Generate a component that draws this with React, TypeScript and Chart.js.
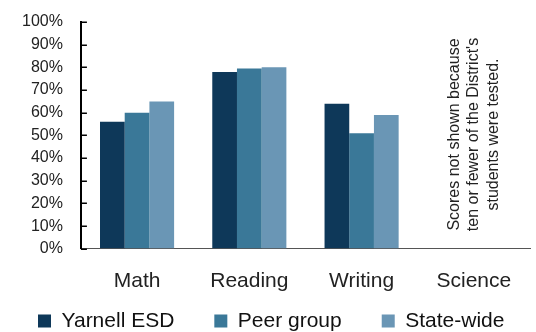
import React, { useEffect, useRef } from "react";
import { Chart, registerables } from "chart.js";

Chart.register(...registerables);

const categories = ["Math", "Reading", "Writing", "Science"];
const yarnell = [56, 78, 64, null];
const peer = [60, 79.5, 51, null];
const state = [65, 80, 59, null];
const seriesNames = ["Yarnell ESD", "Peer group", "State-wide"];
const colors = ["#0e3859", "#3a7898", "#6a96b5"];
const note = ["Scores not shown because", "ten or fewer of the District's", "students were tested."];

const FONT = "'Liberation Sans', Arial, sans-serif";
const LEGEND_PAD = 40;

const layoutPlugin = {
  id: "layoutPlugin",
  beforeLayout(chart: any) {
    const lg = chart.legend;
    if (lg && !lg.__patched) {
      const orig = lg.fit.bind(lg);
      lg.fit = function () {
        const mw = this.maxWidth;
        this.maxWidth = 5000;
        orig();
        this.maxWidth = mw;
        this.width = mw;
        this.height = 26;
      };
      lg.__patched = true;
    }
  },
  afterLayout(chart: any) {
    const lg = chart.legend;
    if (lg && lg.lineWidths) {
      const lw = lg.lineWidths[0];
      const x0 = 38;
      lg.left = -500;
      lg.right = 2 * x0 - LEGEND_PAD + lw + 500;
      lg.top = 321 - LEGEND_PAD - 10.5;
      lg.bottom = chart.height;
      lg.height = lg.bottom - lg.top;
    }
  },
  afterDraw(chart: any) {
    const { ctx, scales } = chart;
    const ys = scales.y;
    const x0 = ys.right;
    ctx.save();
    ctx.strokeStyle = "#000";
    ctx.lineWidth = 1.5;
    ys.ticks.forEach((t: any) => {
      const y = Math.round(ys.getPixelForValue(t.value)) + 0.25;
      ctx.beginPath();
      ctx.moveTo(x0, y);
      ctx.lineTo(x0 + 6, y);
      ctx.stroke();
    });
    ctx.restore();
  },
  afterDatasetsDraw(chart: any) {
    const { ctx, scales } = chart;
    const x = scales.x.getPixelForValue(3);
    const y = scales.y.getPixelForValue(50.4);
    ctx.save();
    ctx.translate(x, y);
    ctx.rotate(-Math.PI / 2);
    ctx.fillStyle = "#222";
    ctx.font = `16px ${FONT}`;
    ctx.textAlign = "center";
    ctx.textBaseline = "middle";
    const lh = 19.5;
    note.forEach((t, i) => {
      ctx.fillText(t, 0, (i - 1) * lh);
    });
    ctx.restore();
  },
};

export default function App() {
  const ref = useRef<HTMLCanvasElement>(null);
  useEffect(() => {
    const chart = new Chart(ref.current!, {
      type: "bar",
      data: {
        labels: categories,
        datasets: [yarnell, peer, state].map((d, i) => ({
          label: seriesNames[i],
          data: d,
          backgroundColor: colors[i],
          categoryPercentage: 0.66,
          barPercentage: 1,
        })),
      },
      options: {
        animation: false,
        responsive: false,
        maintainAspectRatio: false,
        layout: { padding: { top: 22, right: 6, left: 12, bottom: 0 } },
        plugins: {
          tooltip: { enabled: false },
          legend: {
            position: "bottom",
            labels: {
              boxWidth: 13,
              boxHeight: 13,
              padding: LEGEND_PAD,
              color: "#111",
              font: { family: FONT, size: 21 },
            },
          },
        },
        scales: {
          x: {
            grid: { display: false },
            border: { display: true, color: "#555", width: 1 },
            ticks: { color: "#222", padding: 12, font: { family: FONT, size: 21 } },
          },
          y: {
            min: 0,
            max: 100,
            ticks: {
              stepSize: 10,
              autoSkip: false,
              color: "#222",
              padding: 10,
              font: { family: FONT, size: 16 },
              callback: (v: any) => v + "%",
            },
            grid: {
              display: true,
              drawOnChartArea: false,
              drawTicks: true,
              tickLength: 8,
              color: "rgba(0,0,0,0)",
              tickColor: "rgba(0,0,0,0)",
            },
            border: { display: true, color: "#000", width: 2 },
          },
        },
      } as any,
      plugins: [layoutPlugin],
    });
    return () => chart.destroy();
  }, []);
  return (
    <div style={{ position: "absolute", left: 0, top: 0, width: 536, height: 332 }}>
      <canvas ref={ref} width={536} height={332} />
    </div>
  );
}
